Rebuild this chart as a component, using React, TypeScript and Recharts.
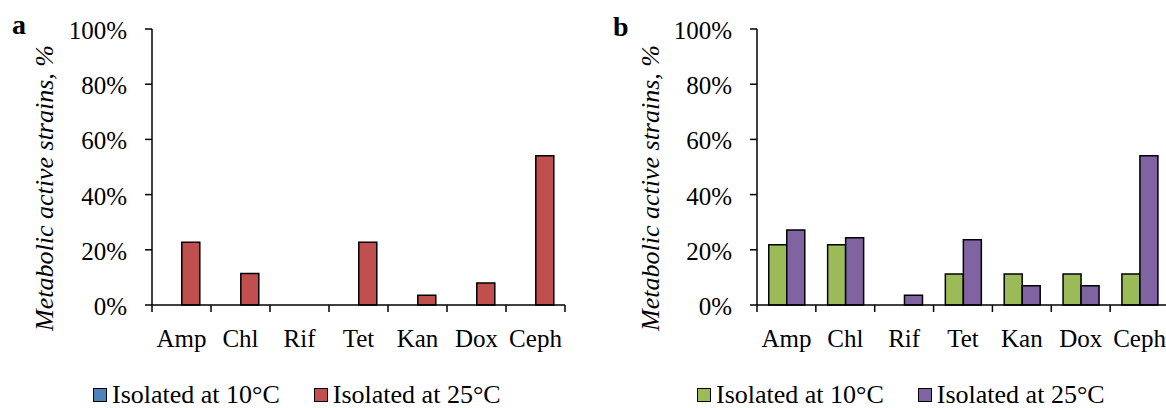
import React from 'react'
import { BarChart, Bar, XAxis, YAxis } from 'recharts'

const categories = ['Amp', 'Chl', 'Rif', 'Tet', 'Kan', 'Dox', 'Ceph']
const yTicks = [0, 20, 40, 60, 80, 100]
const seriesNames = ['Isolated at 10°C', 'Isolated at 25°C']

// panel a (no 10°C strains were active)
const a10 = [0, 0, 0, 0, 0, 0, 0]
const a25 = [22.7, 11.4, 0, 22.7, 3.5, 8.0, 54.1]

// panel b
const b10 = [21.8, 21.8, 0, 11.2, 11.2, 11.2, 11.2]
const b25 = [27.2, 24.4, 3.5, 23.6, 7.0, 7.0, 54.1]

const colorsA = ['#4F81BD', '#C0504D']
const colorsB = ['#9BBB59', '#8064A2']

const FONT = '"Liberation Serif", "Times New Roman", serif'
const HEIGHT = 408
const TOP = 29
const BOTTOM = 63
const X_AXIS_H = 40

interface PanelProps {
  letter: string
  left: number
  width: number
  yAxisWidth: number
  marginRight: number
  low: number[]
  high: number[]
  colors: string[]
  letterX: number
  letterY: number
  titleX: number
  legendX: number
}

function Panel(p: PanelProps) {
  const data = categories.map((c, i) => ({ name: c, low: p.low[i], high: p.high[i] }))
  const band = (p.width - p.marginRight - p.yAxisWidth) / categories.length

  const XTick = (props: any) => {
    const { x, y, payload } = props
    const index = props.index ?? payload.index
    return (
      <g>
        <line x1={x - band / 2} x2={x - band / 2} y1={y} y2={y + 7} stroke="#000" strokeWidth={1.5} />
        {index === categories.length - 1 && (
          <line x1={x + band / 2} x2={x + band / 2} y1={y} y2={y + 7} stroke="#000" strokeWidth={1.5} />
        )}
        <text x={x} y={y + 42} textAnchor="middle" fontSize={25} fontFamily={FONT} fill="#000">
          {payload.value}
        </text>
      </g>
    )
  }

  const YTick = (props: any) => {
    const { x, y, payload } = props
    return (
      <text x={x} y={y + 10} textAnchor="end" fontSize={25} fontFamily={FONT} fill="#000">
        {payload.value}%
      </text>
    )
  }

  return (
    <div style={{ position: 'absolute', left: p.left, top: 0, width: p.width, height: HEIGHT }}>
      <BarChart
        width={p.width}
        height={HEIGHT}
        data={data}
        margin={{ top: TOP, right: p.marginRight, left: 0, bottom: BOTTOM }}
        barCategoryGap="20%"
        barGap={0}
      >
        <XAxis
          dataKey="name"
          height={X_AXIS_H}
          interval={0}
          tickLine={false}
          tickSize={0}
          tickMargin={0}
          axisLine={{ stroke: '#000', strokeWidth: 1.5 }}
          tick={<XTick />}
        />
        <YAxis
          width={p.yAxisWidth}
          domain={[0, 100]}
          ticks={yTicks}
          interval={0}
          tickSize={7}
          tickMargin={18}
          axisLine={{ stroke: '#000', strokeWidth: 1.5 }}
          tickLine={{ stroke: '#000', strokeWidth: 1.5 }}
          tick={<YTick />}
        />
        <Bar dataKey="low" name={seriesNames[0]} fill={p.colors[0]} stroke="#000" strokeWidth={1.5} isAnimationActive={false} />
        <Bar dataKey="high" name={seriesNames[1]} fill={p.colors[1]} stroke="#000" strokeWidth={1.5} isAnimationActive={false} />
      </BarChart>

      <svg
        width={p.width}
        height={HEIGHT}
        style={{ position: 'absolute', left: 0, top: 0, pointerEvents: 'none' }}
      >
        <text x={p.letterX} y={p.letterY} fontSize={28} fontWeight="bold" fontFamily={FONT} fill="#000">
          {p.letter}
        </text>
        <text
          x={p.titleX}
          y={188}
          transform={`rotate(-90, ${p.titleX}, 188)`}
          textAnchor="middle"
          fontSize={26}
          fontStyle="italic"
          fontFamily={FONT}
          fill="#000"
        >
          Metabolic active strains, %
        </text>
      </svg>

      <div
        style={{
          position: 'absolute',
          left: p.legendX,
          top: 382,
          display: 'flex',
          alignItems: 'center',
          gap: 34,
          fontFamily: FONT,
          fontSize: 26,
          lineHeight: '26px',
          whiteSpace: 'nowrap',
          color: '#000',
        }}
      >
        {seriesNames.map((n, i) => (
          <div key={n} style={{ display: 'flex', alignItems: 'center' }}>
            <span
              style={{
                display: 'inline-block',
                width: 14,
                height: 14,
                boxSizing: 'border-box',
                border: '1.5px solid #000',
                background: p.colors[i],
                marginRight: 5,
              }}
            />
            <span>{n}</span>
          </div>
        ))}
      </div>
    </div>
  )
}

export default function App() {
  return (
    <div
      style={{
        position: 'absolute',
        left: 0,
        top: 0,
        width: 1166,
        height: HEIGHT,
        overflow: 'hidden',
        background: '#fff',
        fontFamily: FONT,
      }}
    >
      <Panel
        letter="a"
        left={0}
        width={590}
        yAxisWidth={152}
        marginRight={25}
        low={a10}
        high={a25}
        colors={colorsA}
        letterX={12}
        letterY={34}
        titleX={53}
        legendX={93}
      />
      <Panel
        letter="b"
        left={590}
        width={600}
        yAxisWidth={167}
        marginRight={21}
        low={b10}
        high={b25}
        colors={colorsB}
        letterX={23}
        letterY={36}
        titleX={69}
        legendX={107}
      />
    </div>
  )
}
